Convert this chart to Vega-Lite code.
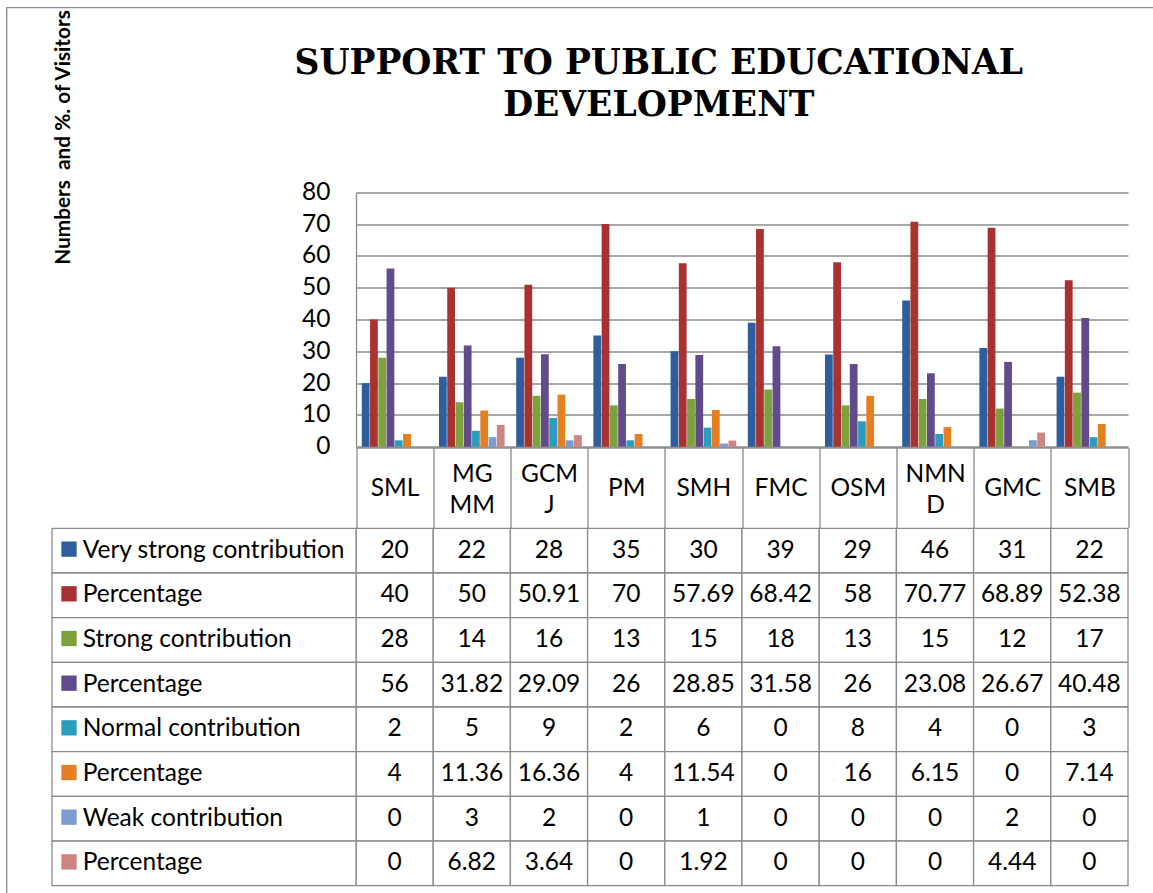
{
  "$schema": "https://vega.github.io/schema/vega-lite/v6.json",
  "autosize": "none",
  "padding": {"left": 6.5, "top": 7.5, "right": -14, "bottom": -14},
  "width": 1160.5,
  "height": 899.5,
  "background": "white",
  "config": {"view": {"stroke": "#8a8a8a", "strokeWidth": 1.3}, "font": "Lato"},
  "title": {
    "text": ["SUPPORT TO PUBLIC EDUCATIONAL", "DEVELOPMENT"],
    "font": "DejaVu Serif", "fontSize": 34.5, "fontWeight": "bold", "color": "black",
    "anchor": "middle", "frame": "group", "dx": 72, "dy": 142.5, "offset": 0,
    "baseline": "alphabetic", "lineHeight": 42
  },
  "datasets": {
    "series": [
      {"s": "vs", "label": "Very strong contribution"},
      {"s": "vsp", "label": "Percentage"},
      {"s": "st", "label": "Strong contribution"},
      {"s": "stp", "label": "Percentage"},
      {"s": "no", "label": "Normal contribution"},
      {"s": "nop", "label": "Percentage"},
      {"s": "we", "label": "Weak contribution"},
      {"s": "wep", "label": "Percentage"}
    ],
    "vals": [
      {"c": "SML", "s": "vs", "v": 20}, {"c": "MGMM", "s": "vs", "v": 22}, {"c": "GCMJ", "s": "vs", "v": 28}, {"c": "PM", "s": "vs", "v": 35}, {"c": "SMH", "s": "vs", "v": 30},
      {"c": "FMC", "s": "vs", "v": 39}, {"c": "OSM", "s": "vs", "v": 29}, {"c": "NMND", "s": "vs", "v": 46}, {"c": "GMC", "s": "vs", "v": 31}, {"c": "SMB", "s": "vs", "v": 22},
      {"c": "SML", "s": "vsp", "v": 40}, {"c": "MGMM", "s": "vsp", "v": 50}, {"c": "GCMJ", "s": "vsp", "v": 50.91}, {"c": "PM", "s": "vsp", "v": 70}, {"c": "SMH", "s": "vsp", "v": 57.69},
      {"c": "FMC", "s": "vsp", "v": 68.42}, {"c": "OSM", "s": "vsp", "v": 58}, {"c": "NMND", "s": "vsp", "v": 70.77}, {"c": "GMC", "s": "vsp", "v": 68.89}, {"c": "SMB", "s": "vsp", "v": 52.38},
      {"c": "SML", "s": "st", "v": 28}, {"c": "MGMM", "s": "st", "v": 14}, {"c": "GCMJ", "s": "st", "v": 16}, {"c": "PM", "s": "st", "v": 13}, {"c": "SMH", "s": "st", "v": 15},
      {"c": "FMC", "s": "st", "v": 18}, {"c": "OSM", "s": "st", "v": 13}, {"c": "NMND", "s": "st", "v": 15}, {"c": "GMC", "s": "st", "v": 12}, {"c": "SMB", "s": "st", "v": 17},
      {"c": "SML", "s": "stp", "v": 56}, {"c": "MGMM", "s": "stp", "v": 31.82}, {"c": "GCMJ", "s": "stp", "v": 29.09}, {"c": "PM", "s": "stp", "v": 26}, {"c": "SMH", "s": "stp", "v": 28.85},
      {"c": "FMC", "s": "stp", "v": 31.58}, {"c": "OSM", "s": "stp", "v": 26}, {"c": "NMND", "s": "stp", "v": 23.08}, {"c": "GMC", "s": "stp", "v": 26.67}, {"c": "SMB", "s": "stp", "v": 40.48},
      {"c": "SML", "s": "no", "v": 2}, {"c": "MGMM", "s": "no", "v": 5}, {"c": "GCMJ", "s": "no", "v": 9}, {"c": "PM", "s": "no", "v": 2}, {"c": "SMH", "s": "no", "v": 6},
      {"c": "FMC", "s": "no", "v": 0}, {"c": "OSM", "s": "no", "v": 8}, {"c": "NMND", "s": "no", "v": 4}, {"c": "GMC", "s": "no", "v": 0}, {"c": "SMB", "s": "no", "v": 3},
      {"c": "SML", "s": "nop", "v": 4}, {"c": "MGMM", "s": "nop", "v": 11.36}, {"c": "GCMJ", "s": "nop", "v": 16.36}, {"c": "PM", "s": "nop", "v": 4}, {"c": "SMH", "s": "nop", "v": 11.54},
      {"c": "FMC", "s": "nop", "v": 0}, {"c": "OSM", "s": "nop", "v": 16}, {"c": "NMND", "s": "nop", "v": 6.15}, {"c": "GMC", "s": "nop", "v": 0}, {"c": "SMB", "s": "nop", "v": 7.14},
      {"c": "SML", "s": "we", "v": 0}, {"c": "MGMM", "s": "we", "v": 3}, {"c": "GCMJ", "s": "we", "v": 2}, {"c": "PM", "s": "we", "v": 0}, {"c": "SMH", "s": "we", "v": 1},
      {"c": "FMC", "s": "we", "v": 0}, {"c": "OSM", "s": "we", "v": 0}, {"c": "NMND", "s": "we", "v": 0}, {"c": "GMC", "s": "we", "v": 2}, {"c": "SMB", "s": "we", "v": 0},
      {"c": "SML", "s": "wep", "v": 0}, {"c": "MGMM", "s": "wep", "v": 6.82}, {"c": "GCMJ", "s": "wep", "v": 3.64}, {"c": "PM", "s": "wep", "v": 0}, {"c": "SMH", "s": "wep", "v": 1.92},
      {"c": "FMC", "s": "wep", "v": 0}, {"c": "OSM", "s": "wep", "v": 0}, {"c": "NMND", "s": "wep", "v": 0}, {"c": "GMC", "s": "wep", "v": 4.44}, {"c": "SMB", "s": "wep", "v": 0}
    ]
  },
  "layer": [
    {
      "data": {"name": "vals"},
      "layer": [
        {
          "mark": {"type": "bar"},
          "encoding": {
            "x": {
              "field": "c", "type": "nominal", "title": null,
              "scale": {"domain": ["SML", "MGMM", "GCMJ", "PM", "SMH", "FMC", "OSM", "NMND", "GMC", "SMB"], "range": [349.5, 1121.5], "paddingInner": 0, "paddingOuter": 0},
              "axis": {
                "orient": "bottom", "offset": -459.5, "grid": false,
                "domain": true, "domainColor": "#8a8a8a", "domainWidth": 1.3,
                "ticks": true, "tickBand": "extent", "tickSize": 80, "tickColor": "#8a8a8a", "tickWidth": 1.3,
                "labelAngle": 0, "labelFont": "Lato", "labelFontSize": 24.5, "labelColor": "black",
                "labelBaseline": "middle",
                "labelPadding": {"condition": {"test": "length(datum.label) > 3", "value": -53}, "value": -39.5},
                "labelLineHeight": 31, "labelLimit": 0,
                "labelExpr": "datum.label == 'MGMM' ? ['MG', 'MM'] : datum.label == 'GCMJ' ? ['GCM', 'J'] : datum.label == 'NMND' ? ['NMN', 'D'] : datum.label"
              }
            },
            "xOffset": {
              "field": "s", "type": "nominal",
              "scale": {"domain": ["vs", "vsp", "st", "stp", "no", "nop", "we", "wep"], "paddingOuter": 0.7, "paddingInner": 0.06}
            },
            "y": {
              "field": "v", "type": "quantitative", "title": "Numbers\u00a0 and %. of Visitors",
              "scale": {"domain": [0, 80], "range": [439.2, 184.8], "nice": false},
              "axis": {
                "orient": "left", "offset": -349.5, "values": [0, 10, 20, 30, 40, 50, 60, 70, 80],
                "grid": true, "gridColor": "#8a8a8a", "gridWidth": 1.3,
                "domain": true, "domainColor": "#8a8a8a", "domainWidth": 1.3, "ticks": false,
                "labelFont": "Lato", "labelFontSize": 24.5, "labelColor": "black", "labelPadding": 26,
                "titleFont": "Lato", "titleFontWeight": "bold", "titleFontSize": 20.8, "titleColor": "black",
                "titleAngle": -90, "titleX": -287, "titleY": 129.5, "titleAlign": "center", "titleBaseline": "alphabetic"
              }
            },
            "color": {
              "field": "s", "type": "nominal", "legend": null,
              "scale": {"domain": ["vs", "vsp", "st", "stp", "no", "nop", "we", "wep"], "range": ["#2E5E9E", "#A8322F", "#7DA23C", "#634A8A", "#2A9DBE", "#E67E22", "#7D9CCF", "#CC8583"]}
            }
          }
        },
        {
          "mark": {"type": "rect", "fill": "white", "stroke": "#8a8a8a", "strokeWidth": 1.3},
          "encoding": {
            "x": {"field": "c", "type": "nominal", "title": null},
            "y": {"field": "s", "type": "nominal", "title": null, "axis": null,
                  "scale": {"domain": ["vs", "vsp", "st", "stp", "no", "nop", "we", "wep"], "range": [520.8, 878.2], "paddingInner": 0, "paddingOuter": 0}}
          }
        },
        {
          "mark": {"type": "text", "font": "Lato", "fontSize": 24.5, "baseline": "middle", "align": "center", "color": "black"},
          "encoding": {
            "x": {"field": "c", "type": "nominal", "title": null},
            "y": {"field": "s", "type": "nominal", "title": null, "axis": null,
                  "scale": {"domain": ["vs", "vsp", "st", "stp", "no", "nop", "we", "wep"], "range": [520.8, 878.2], "paddingInner": 0, "paddingOuter": 0}},
            "text": {"field": "v", "type": "nominal"}
          }
        }
      ],
      "resolve": {"scale": {"y": "independent"}}
    },
    {
      "data": {"name": "series"},
      "layer": [
        {
          "mark": {"type": "rect", "fill": "white", "stroke": "#8a8a8a", "strokeWidth": 1.3},
          "encoding": {
            "x": {"datum": "names", "type": "nominal", "title": null, "axis": null,
                  "scale": {"domain": ["names"], "range": [45.5, 349.5], "paddingInner": 0, "paddingOuter": 0}},
            "y": {"field": "s", "type": "nominal", "title": null, "axis": null,
                  "scale": {"domain": ["vs", "vsp", "st", "stp", "no", "nop", "we", "wep"], "range": [520.8, 878.2], "paddingInner": 0, "paddingOuter": 0}}
          }
        },
        {
          "mark": {"type": "point", "shape": "square", "filled": true, "size": 235, "opacity": 1, "xOffset": -135, "yOffset": -1.5},
          "encoding": {
            "x": {"datum": "names", "type": "nominal", "title": null, "axis": null},
            "y": {"field": "s", "type": "nominal", "title": null, "axis": null},
            "color": {"field": "s", "type": "nominal", "legend": null}
          }
        },
        {
          "mark": {"type": "text", "align": "left", "baseline": "middle", "dx": -121.3, "font": "Lato", "fontSize": 24.5, "color": "black"},
          "encoding": {
            "x": {"datum": "names", "type": "nominal", "title": null, "axis": null},
            "y": {"field": "s", "type": "nominal", "title": null, "axis": null},
            "text": {"field": "label", "type": "nominal"}
          }
        }
      ]
    }
  ],
  "resolve": {"scale": {"x": "independent", "y": "independent"}}
}
